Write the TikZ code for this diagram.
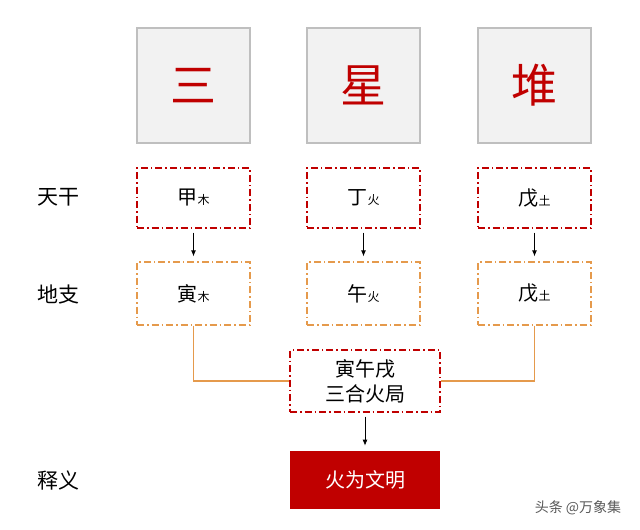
\documentclass[tikz,border=0pt]{standalone}
\usepackage{fontspec}
\setmainfont{Noto Sans CJK SC}
\usetikzlibrary{positioning, arrows.meta}
\definecolor{darkred}{HTML}{C00000}
\definecolor{lineorange}{HTML}{E59A4C}
\definecolor{boxgray}{HTML}{F2F2F2}
\definecolor{edgegray}{HTML}{BFBFBF}
\tikzstyle{titlebox} = [draw=edgegray, fill=boxgray, line width=1.2pt,
minimum width=113pt, minimum height=115pt, inner sep=0pt,
text=darkred, font=\fontsize{46}{46}\selectfont]
\tikzstyle{stembox} = [draw=darkred, line width=1.3pt,
dash pattern=on 7pt off 3pt on 1.5pt off 3pt,
minimum width=113pt, minimum height=60pt, font=\fontsize{20}{20}\selectfont]
\tikzstyle{branchbox} = [stembox, draw=lineorange, minimum height=63pt]
\tikzstyle{rowlabel} = [font=\fontsize{21}{21}\selectfont]
\newcommand{\elem}[1]{{\fontsize{12}{12}\selectfont #1}}

\begin{document}
\begin{tikzpicture}[x=1pt, y=-1pt]
	\useasboundingbox (0,0) rectangle (640,530);
	%% title row
	\node[titlebox](san) at (193.5, 85.5) {三};
	\node[titlebox](xing) at (363.5, 85.5) {星};
	\node[titlebox](dui) at (534.5, 85.5) {堆};
	%% heavenly stems
	\node[stembox](jia) at (193.5, 198) {甲\elem{木}};
	\node[stembox](ding) at (363.5, 198) {丁\elem{火}};
	\node[stembox](wuA) at (534.5, 198) {戊\elem{土}};
	%% earthly branches
	\node[branchbox](yin) at (193.5, 293.5) {寅\elem{木}};
	\node[branchbox](wu) at (363.5, 293.5) {午\elem{火}};
	\node[branchbox](wuB) at (534.5, 293.5) {戊\elem{土}};
	%% combination
	\node[stembox, minimum width=150pt, minimum height=62pt, align=center,
	  font=\fontsize{20}{25}\selectfont](sanhe) at (365, 381) {寅午戌\\三合火局};
	\node[fill=darkred, minimum width=150pt, minimum height=58pt, text=white,
	  font=\fontsize{20}{20}\selectfont, below=38pt of sanhe](result) {火为文明};
	%% row labels
	\node[rowlabel](tg) at (58, 197) {天干};
	\node[rowlabel](dz) at (58, 295) {地支};
	\node[rowlabel](sy) at (58, 480) {释义};
	\node[text=black!65, font=\fontsize{14}{14}\selectfont](mark) at (578, 508) {头条 @万象集};
	%% arrows
	\foreach \a/\b in {jia/yin, ding/wu, wuA/wuB}
	  \draw[-{Latex[length=6pt, width=5pt]}, line width=0.8pt, shorten <=4pt, shorten >=5pt] (\a) -- (\b);
	\draw[-{Latex[length=6pt, width=5pt]}, line width=0.8pt, shorten <=4pt, shorten >=5pt] (sanhe) -- (result);
	%% branches to combination
	\draw[lineorange, line width=1.3pt] (yin.south) |- (sanhe.west);
	\draw[lineorange, line width=1.3pt] (wuB.south) |- (sanhe.east);
\end{tikzpicture}
\end{document}
